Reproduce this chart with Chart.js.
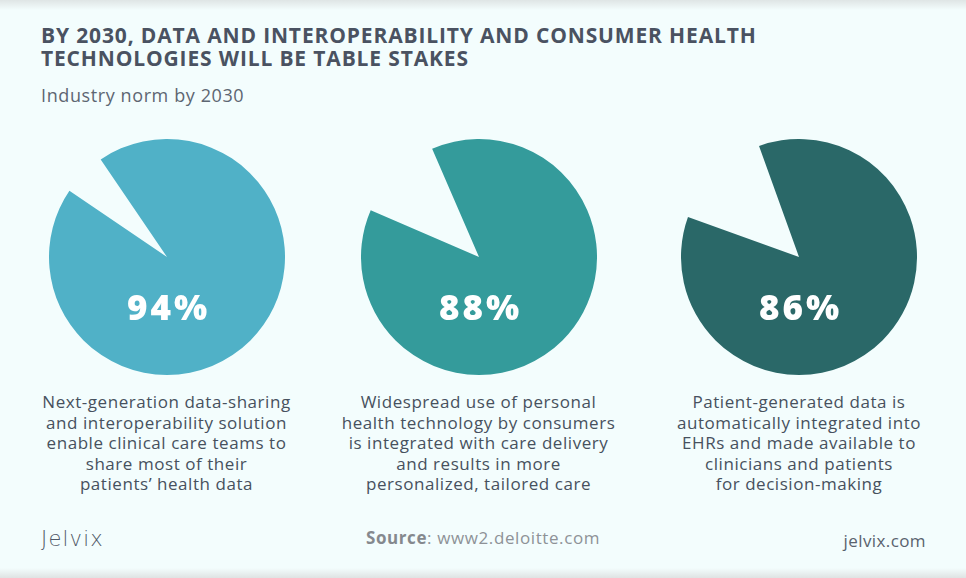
<!DOCTYPE html>
<html>
<head>
<meta charset="utf-8">
<script src="https://cdn.jsdelivr.net/npm/chart.js@4/dist/chart.umd.min.js"></script>
<style>
  html, body { margin: 0; padding: 0; }
  body { width: 966px; height: 578px; overflow: hidden; background: #f3fdfd; font-family: "Open Sans", "Lato", sans-serif; position: relative; }
  .shadowTop { position: absolute; left: 0; top: 0; width: 966px; height: 10px; background: linear-gradient(#dfe5e5, rgba(243,253,253,0)); }
  .shadowBot { position: absolute; left: 0; bottom: 0; width: 966px; height: 10px; background: linear-gradient(rgba(243,253,253,0), #dfe3e3); }
  .title { position: absolute; left: 41px; top: 24px; font-size: 21px; line-height: 23px; font-weight: 700; color: #4a5261; letter-spacing: 0.85px; }
  .subtitle { position: absolute; left: 41px; top: 83px; font-size: 18px; color: #5d6672; font-weight: 400; letter-spacing: 0.6px; }
  canvas.pie { position: absolute; }
  .desc { position: absolute; top: 392px; width: 320px; text-align: center; font-size: 17px; line-height: 20.5px; color: #47515e; letter-spacing: 0.55px; }
  .logo { position: absolute; left: 41px; top: 527px; font-size: 21px; letter-spacing: 1.2px; color: #4f5866; font-family: "DejaVu Sans", sans-serif; font-weight: 300; }
  .source { position: absolute; left: 0; width: 966px; text-align: center; top: 526px; font-size: 17px; color: #8e9297; letter-spacing: 0.6px; }
  .source b { font-weight: 700; color: #85898e; }
  .site { position: absolute; right: 40px; top: 529px; font-size: 17px; color: #59626e; letter-spacing: 0.4px; }
</style>
</head>
<body>
<div class="shadowTop"></div>
<div class="shadowBot"></div>
<div class="title">BY 2030, DATA AND INTEROPERABILITY AND CONSUMER HEALTH<br>TECHNOLOGIES WILL BE TABLE STAKES</div>
<div class="subtitle">Industry norm by 2030</div>

<canvas id="pie0" class="pie" width="236" height="236"></canvas>
<canvas id="pie1" class="pie" width="236" height="236"></canvas>
<canvas id="pie2" class="pie" width="236" height="236"></canvas>

<div id="desc0" class="desc"></div>
<div id="desc1" class="desc"></div>
<div id="desc2" class="desc"></div>

<div class="logo">Jelvix</div>
<div class="source"><b>Source</b>: www2.deloitte.com</div>
<div class="site">jelvix.com</div>

<script>
// ---- data ----
const categories = [
  "Next-generation data-sharing and interoperability solution enable clinical care teams to share most of their patients’ health data",
  "Widespread use of personal health technology by consumers is integrated with care delivery and results in more personalized, tailored care",
  "Patient-generated data is automatically integrated into EHRs and made available to clinicians and patients for decision-making"
];
const descLines = [
  ["Next-generation data-sharing", "and interoperability solution", "enable clinical care teams to", "share most of their", "patients’ health data"],
  ["Widespread use of personal", "health technology by consumers", "is integrated with care delivery", "and results in more", "personalized, tailored care"],
  ["Patient-generated data is", "automatically integrated into", "EHRs and made available to", "clinicians and patients", "for decision-making"]
];
const percentValues = [94, 88, 86];
const sliceColors = ["#50b1c7", "#349b9b", "#2a6868"];

// ---- layout ----
const centersX = [166.5, 478.5, 799];
const centerY = 256.7;
const R = 118;

const valueLabel = {
  id: 'valueLabel',
  afterDatasetsDraw(chart, args, opts) {
    const meta = chart.getDatasetMeta(0);
    const arc = meta.data[0];
    const ctx = chart.ctx;
    ctx.save();
    ctx.fillStyle = '#ffffff';
    ctx.font = '800 35px "Open Sans", sans-serif';
    ctx.textAlign = 'center';
    ctx.textBaseline = 'middle';
    if ('letterSpacing' in ctx) ctx.letterSpacing = '3px';
    ctx.fillText(opts.text, arc.x + 1.5, arc.y + arc.outerRadius * 0.45);
    ctx.restore();
  }
};

percentValues.forEach((v, i) => {
  const cv = document.getElementById('pie' + i);
  cv.style.left = (centersX[i] - R) + 'px';
  cv.style.top = (centerY - R) + 'px';
  const gapDeg = (100 - v) * 3.6;
  new Chart(cv, {
    type: 'pie',
    data: {
      labels: ['Yes', 'Other'],
      datasets: [{
        data: [v, 100 - v],
        backgroundColor: [sliceColors[i], 'rgba(0,0,0,0)'],
        borderWidth: 0,
        hoverOffset: 0
      }]
    },
    options: {
      responsive: false,
      animation: false,
      devicePixelRatio: 1,
      rotation: -45 + gapDeg / 2,
      layout: { padding: 0 },
      plugins: {
        legend: { display: false },
        tooltip: { enabled: false },
        valueLabel: { text: v + '%' }
      },
      events: []
    },
    plugins: [valueLabel]
  });
  const d = document.getElementById('desc' + i);
  d.style.left = (centersX[i] - 160) + 'px';
  d.innerHTML = descLines[i].join('<br>');
});
</script>
</body>
</html>
